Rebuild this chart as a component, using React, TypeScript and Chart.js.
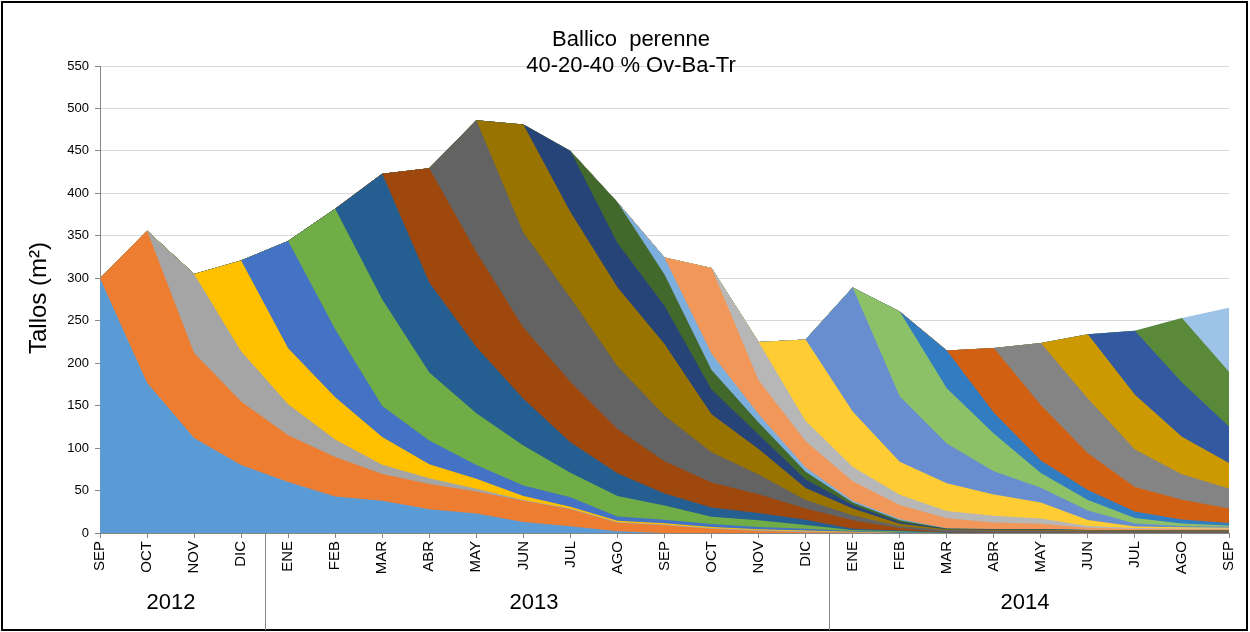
import React, { useEffect, useRef } from 'react';
import { Chart, registerables } from 'chart.js';

Chart.register(...registerables);

const months = ['SEP','OCT','NOV','DIC','ENE','FEB','MAR','ABR','MAY','JUN','JUL','AGO','SEP','OCT','NOV','DIC','ENE','FEB','MAR','ABR','MAY','JUN','JUL','AGO','SEP'];
const yearLabels = ['2012', '2013', '2014'];
const titleLines = ['Ballico  perenne', '40-20-40 % Ov-Ba-Tr'];
const yTitle = 'Tallos (m²)';

// one stacked layer per tiller cohort (month of appearance), values in tallos/m2
const cohortSep12 = [300,177,112,80,60,43,38,28,23,13,8,2,0,0,0,0,0,0,0,0,0,0,0,0,0];
const cohortOct12 = [0,179,100,75,55,46.5,31.5,29.7,26,25,20,10,9,5,2.5,1,0.5,0,0,0,0,0,0,0,0];
const cohortNov12 = [0,0,93,59,36.5,20.5,11,6.7,3,1,1,1,1,1,1,1,0.5,0,0,0,0,0,0,0,0];
const cohortDic12 = [0,0,0,107,66,50,32.5,16.6,12,4.5,2,1.5,1.5,1,1,1,0.5,0,0,0,0,0,0,0,0];
const cohortEne13 = [0,0,0,0,126.5,80,36.6,27.8,16,12.5,11,5,4,3.5,2.5,2,1,1,0,0,0,0,0,0,0];
const cohortFeb13 = [0,0,0,0,0,142,125.4,80.2,61,47,29,24,17,8.5,8,4.5,1,1,0,0,0,0,0,0,0];
const cohortMar13 = [0,0,0,0,0,0,148,106,78,55,36,27,14,11,8.5,6,1.5,1,0.5,0,0,0,0,0,0];
const cohortAbr13 = [0,0,0,0,0,0,0,134.5,112,84,71,52,38,29.5,22,13.5,10,3,0.5,0.3,0.3,0.3,0.3,0.3,0.3];
const cohortMay13 = [0,0,0,0,0,0,0,0,155,112,99,74,54,35.5,23.5,10,6,2,2.5,2.5,2.5,2,2,2,2];
const cohortJun13 = [0,0,0,0,0,0,0,0,0,127,101,93,84,45,30,14,8,3,1,1,1,0.8,0.5,0.5,0.5];
const cohortJul13 = [0,0,0,0,0,0,0,0,0,0,72,52,45,29,17,10,4,2,0.5,0.5,0.5,0.3,0.2,0.2,0.2];
const cohortAgo13 = [0,0,0,0,0,0,0,0,0,0,0,48,37,23,14,9,3,2,0.3,0.3,0.3,0.2,0.2,0.2,0.2];
const cohortSep13 = [0,0,0,0,0,0,0,0,0,0,0,0,20,19,10,5,2,1.5,0.2,0.2,0.2,0.2,0.1,0.1,0.1];
const cohortOct13 = [0,0,0,0,0,0,0,0,0,0,0,0,0,101,40,31,23,16.5,12,7.5,6,2.5,1.5,1,1];
const cohortNov13 = [0,0,0,0,0,0,0,0,0,0,0,0,0,0,45,24,17,12,8.5,8,6.3,2,1,1,1];
const cohortDic13 = [0,0,0,0,0,0,0,0,0,0,0,0,0,0,0,96,65,39,32.5,25,18.7,7,2,1.5,1];
const cohortEne14 = [0,0,0,0,0,0,0,0,0,0,0,0,0,0,0,0,146,77,47,27.5,17.5,11.2,3.5,1.5,1];
const cohortFeb14 = [0,0,0,0,0,0,0,0,0,0,0,0,0,0,0,0,0,100,65,44.5,17.5,12.5,6.5,3,1.6];
const cohortMar14 = [0,0,0,0,0,0,0,0,0,0,0,0,0,0,0,0,0,0,44.5,24.5,14.5,11.6,7.5,4.5,2.9];
const cohortAbr14 = [0,0,0,0,0,0,0,0,0,0,0,0,0,0,0,0,0,0,0,76,65.5,43.4,29,23.5,17];
const cohortMay14 = [0,0,0,0,0,0,0,0,0,0,0,0,0,0,0,0,0,0,0,0,73,64.5,44,30,23.5];
const cohortJun14 = [0,0,0,0,0,0,0,0,0,0,0,0,0,0,0,0,0,0,0,0,0,75.5,64.5,44,30];
const cohortJul14 = [0,0,0,0,0,0,0,0,0,0,0,0,0,0,0,0,0,0,0,0,0,0,75.5,64,43];
const cohortAgo14 = [0,0,0,0,0,0,0,0,0,0,0,0,0,0,0,0,0,0,0,0,0,0,0,76,64.5];
const cohortSep14 = [0,0,0,0,0,0,0,0,0,0,0,0,0,0,0,0,0,0,0,0,0,0,0,0,75.5];

const cohorts = [
  cohortSep12, cohortOct12, cohortNov12, cohortDic12, cohortEne13, cohortFeb13, cohortMar13,
  cohortAbr13, cohortMay13, cohortJun13, cohortJul13, cohortAgo13, cohortSep13, cohortOct13,
  cohortNov13, cohortDic13, cohortEne14, cohortFeb14, cohortMar14, cohortAbr14, cohortMay14,
  cohortJun14, cohortJul14, cohortAgo14, cohortSep14,
];
const cohortNames = [
  'SEP 2012','OCT 2012','NOV 2012','DIC 2012','ENE 2013','FEB 2013','MAR 2013','ABR 2013','MAY 2013',
  'JUN 2013','JUL 2013','AGO 2013','SEP 2013','OCT 2013','NOV 2013','DIC 2013','ENE 2014','FEB 2014',
  'MAR 2014','ABR 2014','MAY 2014','JUN 2014','JUL 2014','AGO 2014','SEP 2014',
];
const palette = [
  '#5B9BD5','#ED7D31','#A5A5A5','#FFC000','#4472C4','#70AD47',
  '#255E91','#9E480E','#636363','#997300','#264478','#43682B',
  '#7CAFDD','#F1975A','#B7B7B7','#FFCD33','#698ED0','#8CC168',
  '#327DC2','#D26012','#848484','#CC9A00','#335AA1','#5A8A39',
  '#9DC3E6',
];

const FONT = '"Liberation Sans", Arial, sans-serif';

const decorPlugin = {
  id: 'decor',
  afterDraw(chart: any) {
    const ctx = chart.ctx as CanvasRenderingContext2D;
    const xs = chart.scales.x;
    ctx.save();
    // outer frame
    ctx.strokeStyle = '#000';
    ctx.lineWidth = 2;
    ctx.strokeRect(2, 2, 1245, 628);
    // title
    ctx.fillStyle = '#000';
    ctx.font = `22px ${FONT}`;
    ctx.textAlign = 'center';
    ctx.textBaseline = 'alphabetic';
    ctx.fillText(titleLines[0], 631, 46);
    ctx.fillText(titleLines[1], 631, 72);
    // y-axis title
    ctx.save();
    ctx.translate(39, 298);
    ctx.rotate(-Math.PI / 2);
    ctx.textBaseline = 'middle';
    ctx.font = `24px ${FONT}`;
    ctx.fillText(yTitle, 0, 0);
    ctx.restore();
    // year separators
    const sep1 = Math.round((xs.getPixelForValue(3) + xs.getPixelForValue(4)) / 2) + 0.5;
    const sep2 = Math.round((xs.getPixelForValue(15) + xs.getPixelForValue(16)) / 2) + 0.5;
    ctx.strokeStyle = '#868686';
    ctx.lineWidth = 1;
    ctx.beginPath();
    ctx.moveTo(sep1, chart.chartArea.bottom);
    ctx.lineTo(sep1, 630);
    ctx.moveTo(sep2, chart.chartArea.bottom);
    ctx.lineTo(sep2, 630);
    ctx.stroke();
    // year labels
    ctx.font = `22px ${FONT}`;
    ctx.fillStyle = '#000';
    ctx.fillText(yearLabels[0], 171, 609);
    ctx.fillText(yearLabels[1], 534, 609);
    ctx.fillText(yearLabels[2], 1025, 609);
    ctx.restore();
  },
};

export default function App() {
  const canvasRef = useRef<HTMLCanvasElement | null>(null);

  useEffect(() => {
    if (!canvasRef.current) return;
    Chart.defaults.font.family = FONT;
    const datasets = cohorts.map((data, i) => ({
      label: cohortNames[i],
      data,
      backgroundColor: palette[i],
      borderColor: 'rgba(0,0,0,0)',
      borderWidth: 0,
      pointRadius: 0,
      fill: 'origin',
      tension: 0,
    }));
    const chart = new Chart(canvasRef.current, {
      type: 'line',
      data: { labels: months, datasets },
      options: {
        responsive: false,
        animation: false,
        devicePixelRatio: 1,
        layout: { padding: { left: 0, right: 21, top: 66, bottom: 0 } },
        plugins: {
          legend: { display: false },
          title: { display: false },
          tooltip: { enabled: false },
        },
        scales: {
          x: {
            z: 1,
            grid: { display: true, drawOnChartArea: false, drawTicks: true, tickLength: 5, tickColor: '#868686' },
            border: { color: '#868686', width: 1 },
            ticks: { autoSkip: false, maxRotation: 90, minRotation: 90, padding: 3, color: '#000', font: { size: 15, family: FONT } },
            afterFit: (s: any) => { s.height = 99; },
          },
          y: {
            stacked: true,
            min: 0,
            max: 550,
            ticks: { stepSize: 50, padding: 6, color: '#000', font: { size: 13, family: FONT } },
            grid: { color: '#D9D9D9', tickColor: '#868686', tickLength: 5 },
            border: { color: '#868686', width: 1 },
            afterFit: (s: any) => { s.width = 100; },
          },
        },
      },
      plugins: [decorPlugin],
    } as any);
    return () => chart.destroy();
  }, []);

  return (
    <div style={{ position: 'absolute', left: 0, top: 0, width: 1250, height: 632, background: '#fff' }}>
      <canvas ref={canvasRef} width={1250} height={632} style={{ display: 'block' }} />
    </div>
  );
}
